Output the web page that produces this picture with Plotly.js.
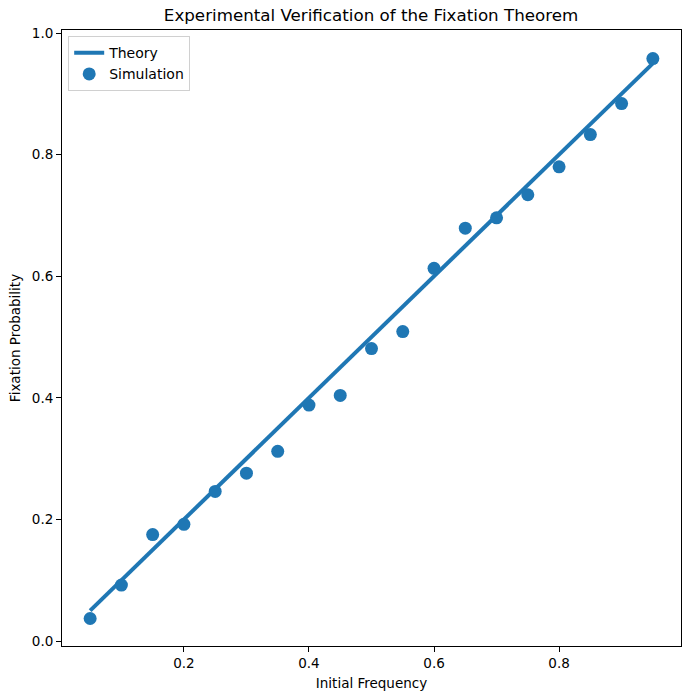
<!DOCTYPE html>
<html>
<head>
<meta charset="utf-8">
<script src="https://cdn.plot.ly/plotly-3.0.1.min.js"></script>
<style>html,body{margin:0;padding:0;background:#fff;}</style>
</head>
<body>
<div id="chart" style="width:691px;height:699px;"></div>
<script>
const freq = [0.05,0.10,0.15,0.20,0.25,0.30,0.35,0.40,0.45,0.50,0.55,0.60,0.65,0.70,0.75,0.80,0.85,0.90,0.95];
const theory = [0.05,0.10,0.15,0.20,0.25,0.30,0.35,0.40,0.45,0.50,0.55,0.60,0.65,0.70,0.75,0.80,0.85,0.90,0.95];
const simulation = [0.037,0.092,0.175,0.192,0.246,0.276,0.312,0.388,0.404,0.481,0.509,0.613,0.679,0.696,0.734,0.780,0.833,0.884,0.958];
const xTicks = [0.2,0.4,0.6,0.8];
const yTicks = [0.0,0.2,0.4,0.6,0.8,1.0];

const font = "DejaVu Sans, sans-serif";
const data = [
  {x: freq, y: theory, mode: 'lines', name: 'Theory', line: {color: '#1f77b4', width: 4}},
  {x: freq, y: simulation, mode: 'markers', name: 'Simulation', marker: {color: '#1f77b4', size: 13}}
];
const layout = {
  width: 691, height: 699,
  margin: {l: 62, r: 10, t: 30, b: 53},
  paper_bgcolor: '#fff', plot_bgcolor: '#fff',
  font: {family: font, size: 13.5, color: '#000'},
  title: {text: 'Experimental Verification of the Fixation Theorem', font: {family: font, size: 16.7, color: '#000'}, x: 0.537, xanchor: 'center', y: 0.987, yanchor: 'top'},
  xaxis: {
    range: [0.005, 0.995], tickvals: xTicks, tickformat: '.1f',
    showgrid: false, zeroline: false, showline: true, mirror: true, linecolor: '#000', linewidth: 1,
    ticks: 'outside', ticklen: 5, tickcolor: '#000',
    title: {text: 'Initial Frequency', font: {family: font, size: 13.5}, standoff: 8}
  },
  yaxis: {
    range: [-0.0082, 1.005], tickvals: yTicks, tickformat: '.1f',
    showgrid: false, zeroline: false, showline: true, mirror: true, linecolor: '#000', linewidth: 1,
    ticks: 'outside', ticklen: 5, tickcolor: '#000',
    title: {text: 'Fixation Probability', font: {family: font, size: 13.5}, standoff: 8}
  },
  legend: {x: 0.01, y: 0.99, xanchor: 'left', yanchor: 'top', bordercolor: '#d0d0d0', borderwidth: 1, bgcolor: 'rgba(255,255,255,0.8)', font: {family: font, size: 14}},
  showlegend: true
};
Plotly.newPlot('chart', data, layout, {displayModeBar: false, staticPlot: true});
</script>
</body>
</html>
